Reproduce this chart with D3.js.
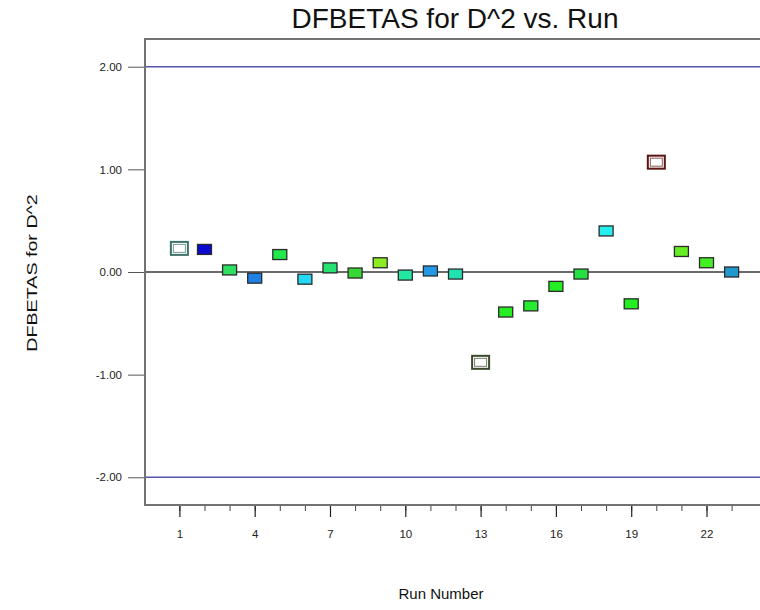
<!DOCTYPE html>
<html>
<head>
<meta charset="utf-8">
<script src="https://cdn.jsdelivr.net/npm/d3@7/dist/d3.min.js"></script>
<style>
  body { margin: 0; background: #fff; }
  svg { display: block; font-family: Arial, "Liberation Sans", sans-serif; }
</style>
</head>
<body>
<div id="chart"></div>
<script>
// data
const runs = [1, 2, 3, 4, 5, 6, 7, 8, 9, 10, 11, 12, 13, 14, 15, 16, 17, 18, 19, 20, 21, 22, 23]
const dfbetas = [0.23, 0.22, 0.02, -0.06, 0.17, -0.07, 0.04, -0.01, 0.09, -0.03, 0.01, -0.02,
    -0.88, -0.39, -0.33, -0.14, -0.02, 0.40, -0.31, 1.07, 0.20, 0.09, 0.00]
const flaggedRuns = [1, 13, 20]
const yTicks = [-2, -1, 0, 1, 2]
const xTickLabels = [1, 4, 7, 10, 13, 16, 19, 22]
const limitLines = [-2, 2]

// marker colours, one per run
const pointColors = ['#ffffff', '#0a0ad0', '#2fe060', '#1f80e6', '#22e84a', '#22d8f2', '#25e272',
    '#35d835', '#8cee22', '#22e8a2', '#2299e8', '#22e2b2', '#ffffff', '#22ee22', '#26ec30',
    '#22ee22', '#24e040', '#26eeee', '#22ee22', '#ffffff', '#66ee22', '#44ee22', '#2299cc']
const flagBorders = { 1: '#3f716b', 13: '#3b4a2c', 20: '#5a1414' }

const width = 760
const height = 610
const plotLeft = 145, plotRight = 765, plotTop = 39, plotBottom = 505

const svg = d3.select('#chart')
    .append('svg')
    .attr('width', width)
    .attr('height', height)

const x = d3.scaleLinear().domain([-0.37, 24.33]).range([plotLeft, plotRight])
const y = d3.scaleLinear().domain([-2.27, 2.27]).range([plotBottom, plotTop])

// title
svg.append('text')
    .attr('x', 455)
    .attr('y', 28)
    .attr('text-anchor', 'middle')
    .attr('font-size', '28px')
    .attr('fill', '#111')
    .text('DFBETAS for D^2 vs. Run')

// limit lines at +/-2
svg.selectAll('.limit')
    .data(limitLines)
    .enter().append('line')
    .attr('class', 'limit')
    .attr('x1', plotLeft)
    .attr('x2', plotRight)
    .attr('y1', d => y(d))
    .attr('y2', d => y(d))
    .attr('stroke', '#5656a6')
    .attr('stroke-width', 1.6)

// zero line
svg.append('line')
    .attr('x1', plotLeft)
    .attr('x2', plotRight)
    .attr('y1', y(0))
    .attr('y2', y(0))
    .attr('stroke', '#6a6a6a')
    .attr('stroke-width', 2)

// y axis
const yAxis = d3.axisLeft(y)
    .tickValues(yTicks)
    .tickSize(17)
    .tickPadding(6)
    .tickFormat(d => d < 0 ? '-' + d3.format('.2f')(-d) : d3.format('.2f')(d))

const gy = svg.append('g')
    .attr('transform', `translate(${plotLeft},0)`)
    .call(yAxis)
gy.select('.domain').remove()
gy.selectAll('.tick line').attr('stroke', '#555').attr('stroke-width', 1)
gy.selectAll('.tick text')
    .attr('font-size', '11.5px')
    .attr('fill', '#222')

// x axis, minor ticks for every run
const xMinor = d3.axisBottom(x)
    .tickValues(runs)
    .tickSize(6)
    .tickFormat('')
const gxm = svg.append('g')
    .attr('transform', `translate(0,${plotBottom})`)
    .call(xMinor)
gxm.select('.domain').remove()
gxm.selectAll('.tick line').attr('stroke', '#444').attr('stroke-width', 1)

const xAxis = d3.axisBottom(x)
    .tickValues(xTickLabels)
    .tickSize(12)
    .tickPadding(13)
    .tickFormat(d3.format('d'))
const gx = svg.append('g')
    .attr('transform', `translate(0,${plotBottom})`)
    .call(xAxis)
gx.select('.domain').remove()
gx.selectAll('.tick line').attr('stroke', '#222').attr('stroke-width', 1.2)
gx.selectAll('.tick text').attr('font-size', '11.5px').attr('fill', '#222')

// plot frame (left, top, bottom)
svg.append('path')
    .attr('d', `M${plotRight},${plotTop}H${plotLeft}V${plotBottom}H${plotRight}`)
    .attr('fill', 'none')
    .attr('stroke', '#727272')
    .attr('stroke-width', 2)

// axis titles (the y title is stretched along its length in the original)
svg.append('text')
    .attr('transform', 'translate(37,273) rotate(-90) scale(1.27,1)')
    .attr('text-anchor', 'middle')
    .attr('font-size', '15.5px')
    .attr('fill', '#111')
    .text('DFBETAS for D^2')

svg.append('text')
    .attr('x', 441)
    .attr('y', 599)
    .attr('text-anchor', 'middle')
    .attr('font-size', '15px')
    .attr('fill', '#111')
    .text('Run Number')

// points
const points = runs.map((r, i) => ({ run: r, value: dfbetas[i], color: pointColors[i] }))

const plain = points.filter(d => flaggedRuns.indexOf(d.run) < 0)
const flagged = points.filter(d => flaggedRuns.indexOf(d.run) >= 0)

svg.selectAll('.dot')
    .data(plain)
    .enter().append('rect')
    .attr('class', 'dot')
    .attr('x', d => x(d.run) - 7)
    .attr('y', d => y(d.value) - 5)
    .attr('width', 14)
    .attr('height', 10)
    .attr('fill', d => d.color)
    .attr('stroke', '#2a2a2a')
    .attr('stroke-width', 1.3)

svg.selectAll('.flagOuter')
    .data(flagged)
    .enter().append('rect')
    .attr('class', 'flagOuter')
    .attr('x', d => x(d.run) - 8.5)
    .attr('y', d => y(d.value) - 6.5)
    .attr('width', 17)
    .attr('height', 13)
    .attr('fill', '#fff')
    .attr('stroke', d => flagBorders[d.run])
    .attr('stroke-width', 2)

svg.selectAll('.flagInner')
    .data(flagged)
    .enter().append('rect')
    .attr('class', 'flagInner')
    .attr('x', d => x(d.run) - 6)
    .attr('y', d => y(d.value) - 4)
    .attr('width', 12)
    .attr('height', 8)
    .attr('fill', d => d.color)
    .attr('stroke', d => flagBorders[d.run])
    .attr('stroke-width', 1)
    .attr('stroke-opacity', 0.7)
</script>
</body>
</html>
